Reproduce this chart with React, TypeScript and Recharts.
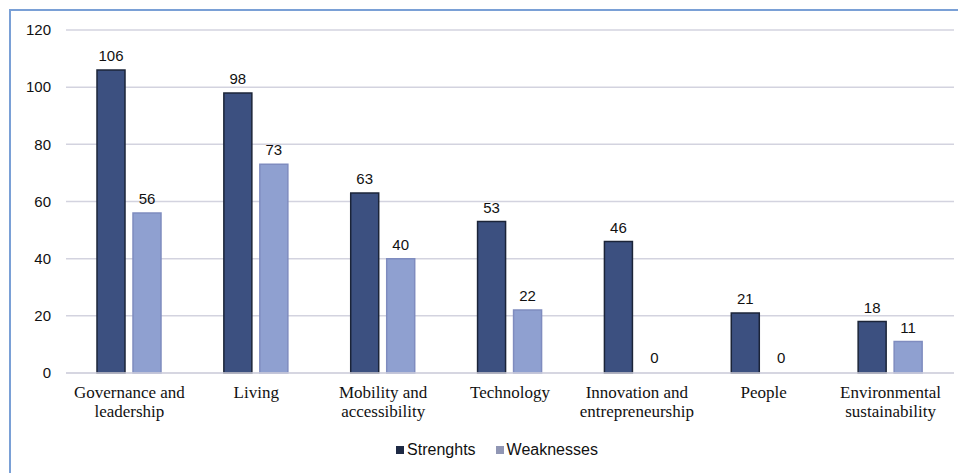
import React from "react";
import { BarChart, Bar, XAxis, YAxis, CartesianGrid, LabelList, Legend, Cell } from "recharts";

const categories = [
  "Governance and leadership",
  "Living",
  "Mobility and accessibility",
  "Technology",
  "Innovation and entrepreneurship",
  "People",
  "Environmental sustainability",
];
const categoryLines: string[][] = [
  ["Governance and", "leadership"],
  ["Living"],
  ["Mobility and", "accessibility"],
  ["Technology"],
  ["Innovation and", "entrepreneurship"],
  ["People"],
  ["Environmental", "sustainability"],
];
const strengths = [106, 98, 63, 53, 46, 21, 18];
const weaknesses = [56, 73, 40, 22, 0, 0, 11];
const yTicks = [0, 20, 40, 60, 80, 100, 120];

const data = categories.map((name, i) => ({
  name,
  strengths: strengths[i],
  weaknesses: weaknesses[i],
}));

const SANS = "'Liberation Sans', Arial, sans-serif";
const SERIF = "'Liberation Serif', 'Times New Roman', serif";

const CategoryTick = (props: any) => {
  const { x, y, index } = props;
  const lines = categoryLines[index] || [];
  return (
    <text x={x} y={y} textAnchor="middle" fontFamily={SERIF} fontSize={17} fill="#111">
      {lines.map((l, i) => (
        <tspan key={i} x={x} dy={i === 0 ? 17 : 19}>
          {l}
        </tspan>
      ))}
    </text>
  );
};

const LegendContent = () => (
  <div
    style={{
      display: "flex",
      justifyContent: "center",
      alignItems: "center",
      height: 20,
      paddingLeft: 32,
      fontFamily: SANS,
      fontSize: 16,
      color: "#111",
    }}
  >
    <span style={{ display: "inline-block", width: 8, height: 8, background: "#1e2a45", marginRight: 3 }} />
    <span style={{ marginRight: 20 }}>Strenghts</span>
    <span style={{ display: "inline-block", width: 8, height: 8, background: "#9096b4", marginRight: 3 }} />
    <span>Weaknesses</span>
  </div>
);

export default function App() {
  return (
    <div style={{ position: "relative", width: 958, height: 465, overflow: "hidden", background: "#fff" }}>
      <div
        style={{
          position: "absolute",
          left: 1,
          top: 1,
          width: 1000,
          height: 600,
          borderLeft: "2px solid #7aa0d6",
          borderTop: "2px solid #7aa0d6",
          boxSizing: "border-box",
        }}
      />
      <div style={{ position: "absolute", left: 0, top: 0 }}>
        <BarChart
          width={958}
          height={465}
          data={data}
          margin={{ top: 22, right: 12, bottom: 13, left: 0 }}
          barSize={28}
          barGap={8}
        >
          <CartesianGrid vertical={false} stroke="#d3d3df" strokeWidth={1.5} />
          <XAxis
            dataKey="name"
            interval={0}
            height={67}
            tickLine={false}
            axisLine={{ stroke: "#d3d3df", strokeWidth: 1.5 }}
            tick={<CategoryTick />}
          />
          <YAxis
            width={58}
            domain={[0, 120]}
            ticks={yTicks}
            axisLine={false}
            tickLine={false}
            tickMargin={9}
            tick={{ fontFamily: SANS, fontSize: 15, fill: "#111" }}
          />
          <Legend verticalAlign="bottom" height={20} content={<LegendContent />} />
          <Bar dataKey="strengths" name="Strenghts" fill="#3c5080" stroke="#1b2438" strokeWidth={1.5} isAnimationActive={false}>
            <LabelList dataKey="strengths" position="top" offset={9} fill="#111" fontSize={15} fontFamily={SANS} />
          </Bar>
          <Bar
            dataKey="weaknesses"
            name="Weaknesses"
            fill="#8fa0d0"
            stroke="#7f8cbf"
            strokeWidth={1.5}
            minPointSize={1}
            isAnimationActive={false}
          >
            {weaknesses.map((v, i) => (
              <Cell
                key={i}
                fill={v === 0 ? "transparent" : "#8fa0d0"}
                stroke={v === 0 ? "transparent" : "#7f8cbf"}
              />
            ))}
            <LabelList dataKey="weaknesses" position="top" offset={9} fill="#111" fontSize={15} fontFamily={SANS} />
          </Bar>
        </BarChart>
      </div>
    </div>
  );
}
